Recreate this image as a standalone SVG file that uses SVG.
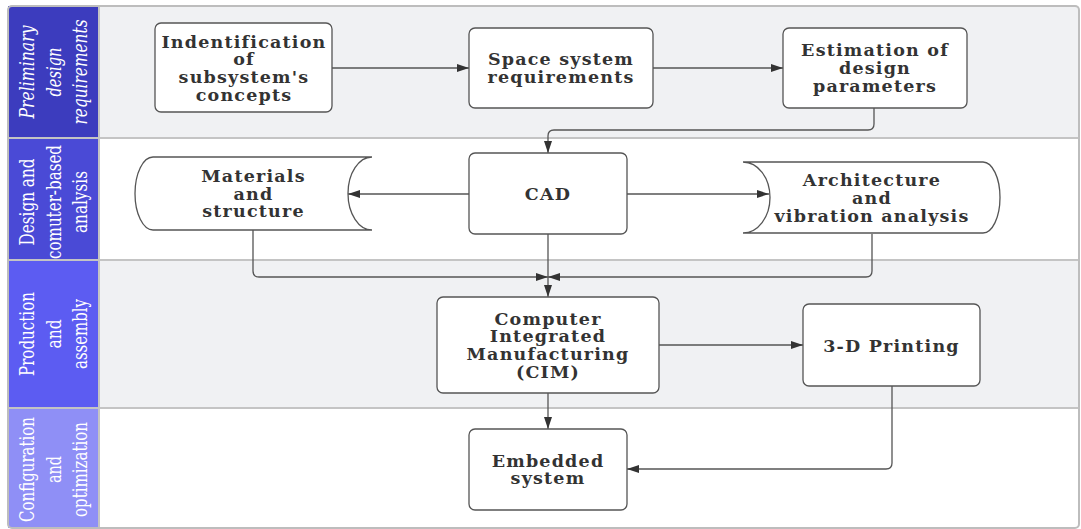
<svg xmlns="http://www.w3.org/2000/svg" width="1081" height="529" viewBox="0 0 1081 529">
<defs>
<style>
.node{fill:#ffffff;stroke:#555555;stroke-width:1.3}
.nt{font-family:"DejaVu Serif","Liberation Serif",serif;font-weight:bold;font-size:17.5px;letter-spacing:1.2px;fill:#333333;text-anchor:middle}
.lt{font-family:"DejaVu Serif","Liberation Serif",serif;font-stretch:condensed;font-size:20px;fill:#ffffff;text-anchor:middle}
.it{font-style:italic}
.con{fill:none;stroke:#555555;stroke-width:1.3}
.sep{stroke:#c4c4c4;stroke-width:2;fill:none}
</style>
<marker id="arr" viewBox="0 0 12 10" refX="12" refY="5" markerWidth="12" markerHeight="10" markerUnits="userSpaceOnUse" orient="auto">
<path d="M0,1 L12,5 L0,9 Z" fill="#333333"/>
</marker>
</defs>
<g id="lanes">
<rect x="99" y="6" width="980" height="132" fill="#f0f1f3"/>
<rect x="99" y="138" width="980" height="122" fill="#ffffff"/>
<rect x="99" y="260" width="980" height="148" fill="#f0f1f3"/>
<rect x="99" y="408" width="980" height="120" fill="#ffffff"/>
<rect x="8" y="6" width="91" height="132" fill="#3c3cbe"/>
<rect x="8" y="138" width="91" height="122" fill="#4a4ad6"/>
<rect x="8" y="260" width="91" height="148" fill="#5c5cf2"/>
<rect x="8" y="408" width="91" height="120" fill="#8f8ff6"/>
<path class="sep" d="M8,138 H1079 M8,260 H1079 M8,408 H1079 M99,6 V528"/>
<rect x="8" y="6" width="1071" height="522" rx="4" fill="none" stroke="#bdbdbd" stroke-width="2"/>
</g>
<g id="lane-labels">
<g transform="translate(53.5,72) rotate(-90)">
<text class="lt it" x="0" y="-19.5" textLength="93" lengthAdjust="spacingAndGlyphs">Preliminary</text>
<text class="lt it" x="0" y="7" textLength="49" lengthAdjust="spacingAndGlyphs">design</text>
<text class="lt it" x="0" y="33" textLength="105" lengthAdjust="spacingAndGlyphs">requirements</text>
</g>
<g transform="translate(53.5,202) rotate(-90)">
<text class="lt" x="0" y="-19.5" textLength="87" lengthAdjust="spacingAndGlyphs">Design and</text>
<text class="lt" x="0" y="7" textLength="114" lengthAdjust="spacingAndGlyphs">comuter-based</text>
<text class="lt" x="0" y="33" textLength="62" lengthAdjust="spacingAndGlyphs">analysis</text>
</g>
<g transform="translate(53.5,334) rotate(-90)">
<text class="lt" x="0" y="-19.5" textLength="84" lengthAdjust="spacingAndGlyphs">Production</text>
<text class="lt" x="0" y="7" textLength="29" lengthAdjust="spacingAndGlyphs">and</text>
<text class="lt" x="0" y="33" textLength="70" lengthAdjust="spacingAndGlyphs">assembly</text>
</g>
<g transform="translate(53.5,469.5) rotate(-90)">
<text class="lt" x="0" y="-19.5" textLength="105" lengthAdjust="spacingAndGlyphs">Configuration</text>
<text class="lt" x="0" y="7" textLength="27" lengthAdjust="spacingAndGlyphs">and</text>
<text class="lt" x="0" y="33" textLength="95" lengthAdjust="spacingAndGlyphs">optimization</text>
</g>
</g>
<g id="connectors">
<path class="con" marker-end="url(#arr)" d="M332,68 H469"/>
<path class="con" marker-end="url(#arr)" d="M653,68 H783"/>
<path class="con" marker-end="url(#arr)" d="M874,108 V124 Q874,130 868,130 H554 Q548,130 548,136 V153"/>
<path class="con" marker-end="url(#arr)" d="M469,194 H348"/>
<path class="con" marker-end="url(#arr)" d="M627,194 H769"/>
<path class="con" marker-end="url(#arr)" d="M253,230 V271 Q253,277 259,277 H548"/>
<path class="con" marker-end="url(#arr)" d="M872,234 V271 Q872,277 866,277 H548"/>
<path class="con" marker-end="url(#arr)" d="M548,234 V297"/>
<path class="con" marker-end="url(#arr)" d="M659,345 H803"/>
<path class="con" marker-end="url(#arr)" d="M548,393 V429"/>
<path class="con" marker-end="url(#arr)" d="M892,386 V463 Q892,469 886,469 H627"/>
</g>
<g id="n-identification">
<rect class="node" x="155" y="23" width="177" height="89" rx="6"/>
<text class="nt" x="244" y="47.5">Indentification</text>
<text class="nt" x="244" y="65.2">of</text>
<text class="nt" x="244" y="82.9">subsystem's</text>
<text class="nt" x="244" y="100.6">concepts</text>
</g>
<g id="n-space">
<rect class="node" x="469" y="28" width="184" height="80" rx="6"/>
<text class="nt" x="561" y="65.2">Space system</text>
<text class="nt" x="561" y="82.9">requirements</text>
</g>
<g id="n-estimation">
<rect class="node" x="783" y="28" width="184" height="80" rx="6"/>
<text class="nt" x="875" y="56.3">Estimation of</text>
<text class="nt" x="875" y="74">design</text>
<text class="nt" x="875" y="91.7">parameters</text>
</g>
<g id="n-cad">
<rect class="node" x="469" y="153" width="158" height="81" rx="6"/>
<text class="nt" x="548" y="199.5">CAD</text>
</g>
<g id="n-materials">
<path class="node" d="M153,157 H372 A24,36.5 0 0 0 372,230 H153 A18,36.5 0 0 1 153,157 Z"/>
<text class="nt" x="253.5" y="182">Materials</text>
<text class="nt" x="253.5" y="199.7">and</text>
<text class="nt" x="253.5" y="217.4">structure</text>
</g>
<g id="n-architecture">
<path class="node" d="M743,162 H983 A17,35.5 0 0 1 983,233 H743 A27,35.5 0 0 0 743,162 Z"/>
<text class="nt" x="872" y="186.3">Architecture</text>
<text class="nt" x="872" y="204">and</text>
<text class="nt" x="872" y="221.7">vibration analysis</text>
</g>
<g id="n-cim">
<rect class="node" x="437" y="297" width="222" height="96" rx="6"/>
<text class="nt" x="548" y="324.5">Computer</text>
<text class="nt" x="548" y="342.2">Integrated</text>
<text class="nt" x="548" y="359.9">Manufacturing</text>
<text class="nt" x="548" y="377.6">(CIM)</text>
</g>
<g id="n-printing">
<rect class="node" x="803" y="304" width="177" height="82" rx="6"/>
<text class="nt" x="891.5" y="351.5">3-D Printing</text>
</g>
<g id="n-embedded">
<rect class="node" x="469" y="429" width="158" height="81" rx="6"/>
<text class="nt" x="548" y="466.7">Embedded</text>
<text class="nt" x="548" y="484.4">system</text>
</g>
</svg>
